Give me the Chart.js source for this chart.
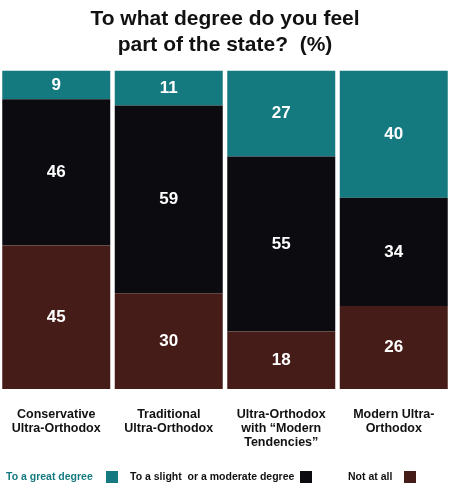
<!DOCTYPE html>
<html><head><meta charset="utf-8">
<script src="https://cdn.jsdelivr.net/npm/chart.js@4"></script>
<style>html,body{margin:0;padding:0;background:#fff}#w{width:450px;height:486px}</style>
</head><body><div id="w"><canvas id="c"></canvas></div>
<script>
const categories=[["Conservative","Ultra-Orthodox"],["Traditional","Ultra-Orthodox"],["Ultra-Orthodox","with \u201cModern","Tendencies\u201d"],["Modern Ultra-","Orthodox"]];
const notAtAll=[45,30,18,26];
const slightModerate=[46,59,55,34];
const greatDegree=[9,11,27,40];
const colors={great:"#157a80",slight:"#0b0b10",not:"#461c18"};
const FONT="'Liberation Sans',Arial,sans-serif";
const labelsPlugin={id:"lbl",afterDatasetsDraw(ch){const ctx=ch.ctx;ctx.save();ctx.fillStyle="#fff";ctx.font="bold 17px "+FONT;ctx.textAlign="center";ctx.textBaseline="middle";
ch.data.datasets.forEach((ds,i)=>{ch.getDatasetMeta(i).data.forEach((b,j)=>{ctx.fillText(ds.data[j],b.x,(b.y+b.base)/2);});});ctx.restore();}};
const legendPlugin={id:"leg",afterDraw(ch){const ctx=ch.ctx;ctx.save();ctx.font="bold 10.5px "+FONT;ctx.textBaseline="middle";const y=477;
const items=[["To a great degree",colors.great,"#157a80",6,106],["To a slight  or a moderate degree",colors.slight,"#111",130,300],["Not at all",colors.not,"#111",348,404]];
items.forEach(it=>{ctx.fillStyle=it[2];ctx.fillText(it[0],it[3],y);ctx.fillStyle=it[1];ctx.fillRect(it[4],y-6,12,12);});ctx.restore();}};
new Chart(document.getElementById("c"),{type:"bar",
data:{labels:categories,datasets:[
{label:"Not at all",data:notAtAll,backgroundColor:colors.not},
{label:"To a slight or a moderate degree",data:slightModerate,backgroundColor:colors.slight},
{label:"To a great degree",data:greatDegree,backgroundColor:colors.great}]},
options:{responsive:true,maintainAspectRatio:false,animation:false,
layout:{padding:{left:0,right:0,bottom:26,top:0}},
datasets:{bar:{barPercentage:0.96,categoryPercentage:1}},
plugins:{legend:{display:false},tooltip:{enabled:false},
title:{display:true,text:["To what degree do you feel","part of the state?  (%)"],color:"#111",font:{family:FONT,size:21,weight:"bold",lineHeight:1.25},padding:{top:6,bottom:12}}},
scales:{x:{stacked:true,grid:{display:false},border:{display:false},ticks:{color:"#111",font:{family:FONT,size:12.5,weight:"bold",lineHeight:1.15},padding:10,maxRotation:0}},
y:{stacked:true,display:false,min:0,max:100}}},
plugins:[labelsPlugin,legendPlugin]});
</script></body></html>
